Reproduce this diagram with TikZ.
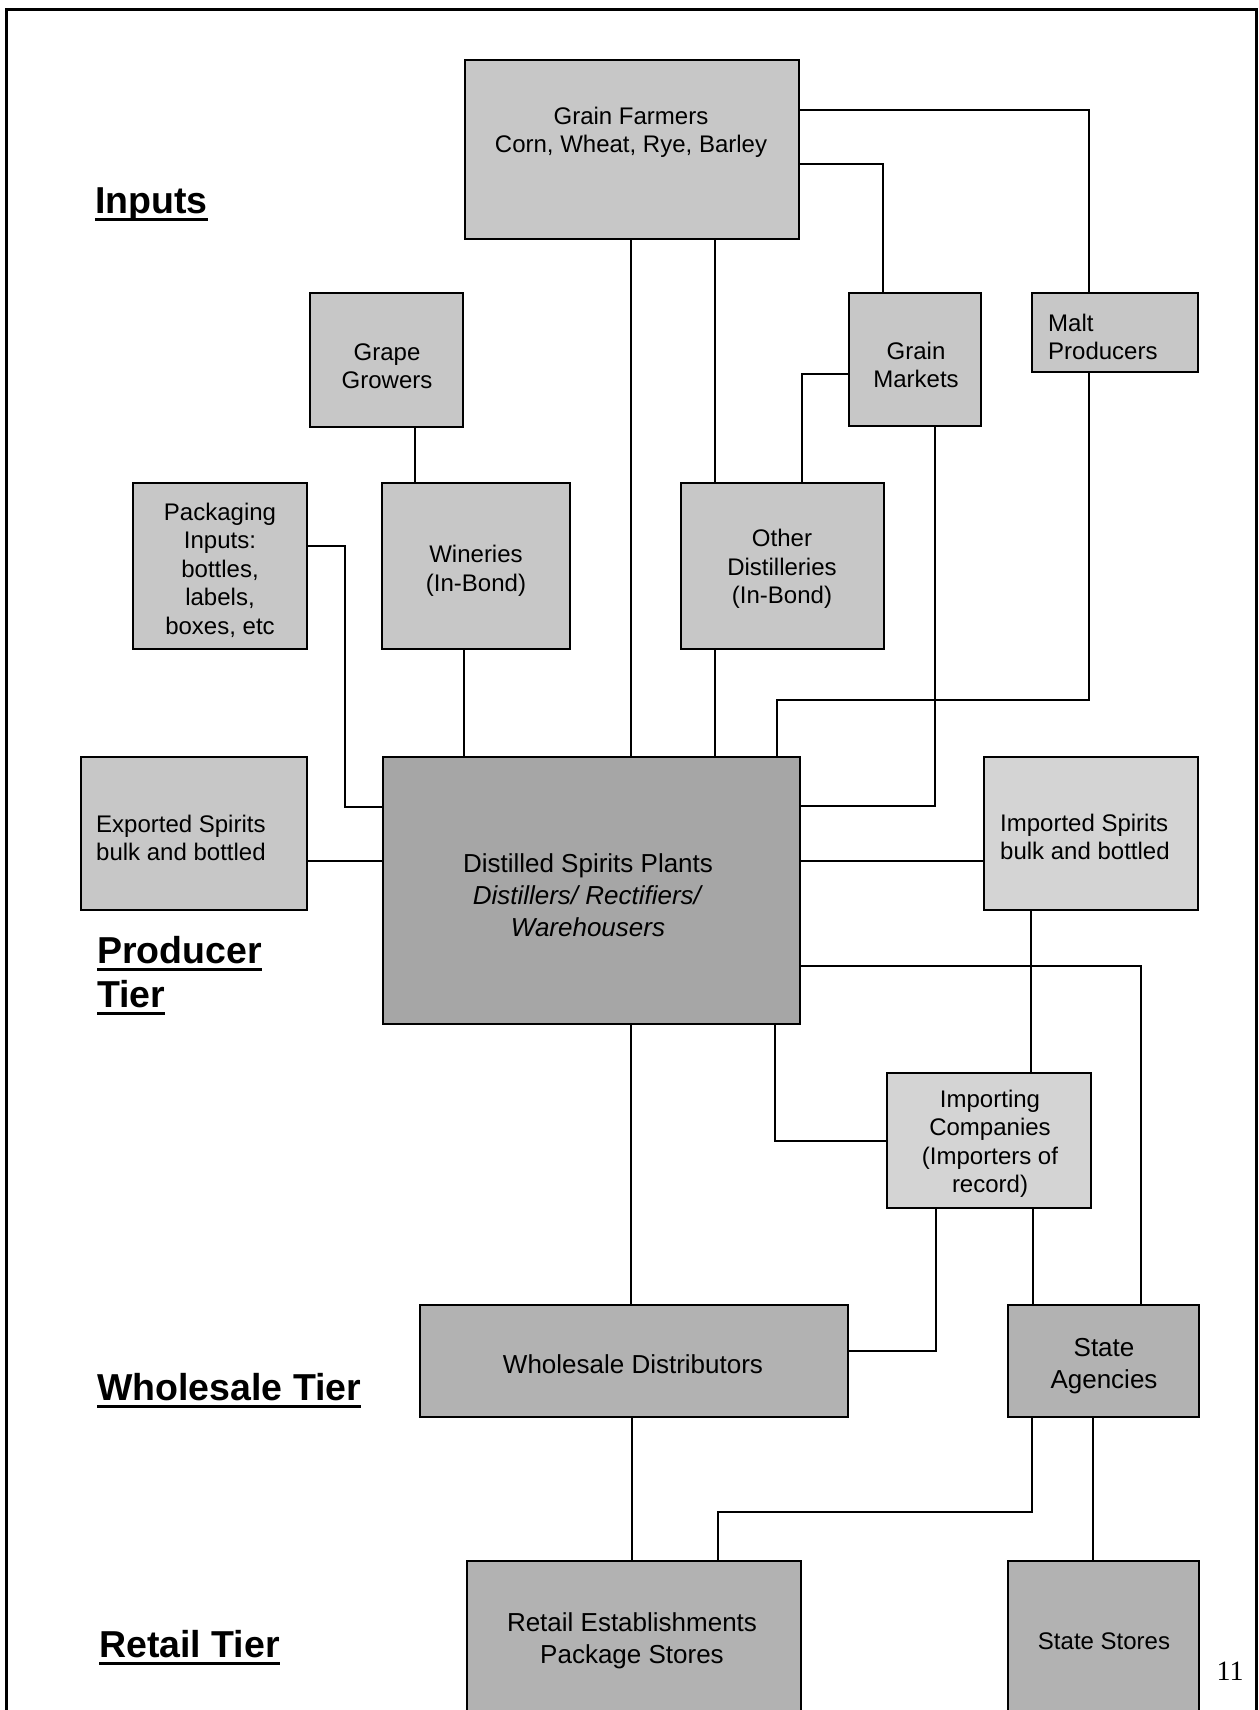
\documentclass[tikz,border=0pt]{standalone}
\usepackage{fontspec}
\setmainfont{Liberation Sans}
\newfontfamily\serifnum{Liberation Serif}
\usetikzlibrary{calc}
\definecolor{cin}{gray}{0.78}
\definecolor{clight}{gray}{0.83}
\definecolor{cdsp}{gray}{0.65}
\definecolor{cdist}{gray}{0.70}
\newcommand\secul[1]{\setbox0\hbox{#1}\rlap{\rule[-8pt]{\wd0}{3pt}}\box0}
\newcommand\mkbx[6]{\node[box, fill=#6, minimum width={#4pt-#2pt}, minimum height={#5pt-#3pt}] (#1) at ({(#2+#4)/2},{(#3+#5)/2}) {};}
\tikzset{
  box/.style={draw, line width=2.5pt, inner sep=0pt, rectangle},
  boxtext/.style={inner sep=0pt, align=center, font=\fontsize{24}{28.5}\selectfont},
  bigtext/.style={inner sep=0pt, align=center, font=\fontsize{26}{32}\selectfont},
  lefttext/.style={inner sep=0pt, align=left, anchor=west, font=\fontsize{24}{28}\selectfont},
  conn/.style={line width=2pt},
  tier/.style={inner sep=0pt, anchor=base west, align=left, font=\fontsize{37.5}{44}\selectfont\bfseries},
}
\begin{document}
\begin{tikzpicture}[x=1pt,y=-1pt]
\useasboundingbox (0,0) rectangle (1258,1710);
\clip (0,0) rectangle (1258,1710);
\fill[white] (0,0) rectangle (1258,1710);
\draw[line width=3pt] (6,9.5) rectangle (1256,1750);

% boxes
\mkbx{gf}{465}{60}{799}{239}{cin}
\mkbx{grape}{310}{293}{463}{427}{cin}
\mkbx{gm}{849}{293}{981}{426}{cin}
\mkbx{malt}{1032}{293}{1198}{372}{cin}
\mkbx{pack}{133}{483}{307}{649}{cin}
\mkbx{win}{382}{483}{570}{649}{cin}
\mkbx{od}{681}{483}{884}{649}{cin}
\mkbx{exp}{81}{757}{307}{910}{cin}
\mkbx{dsp}{383}{757}{800}{1024}{cdsp}
\mkbx{imp}{984}{757}{1198}{910}{clight}
\mkbx{ic}{887}{1073}{1091}{1208}{clight}
\mkbx{wd}{420}{1305}{848}{1417}{cdist}
\mkbx{sa}{1008}{1305}{1199}{1417}{cdist}
\mkbx{ret}{467}{1561}{801}{1725}{cdist}
\mkbx{ss}{1008}{1561}{1199}{1725}{cdist}

% box texts
\node[boxtext] (gf-t) at (631,132.5) {Grain Farmers\\Corn, Wheat, Rye, Barley};
\node[boxtext] (grape-t) at (387,366) {Grape\\Growers};
\node[boxtext] (gm-t) at (916,365) {Grain\\Markets};
\node[lefttext] (malt-t) at (1048,337) {Malt\\Producers};
\node[boxtext] (pack-t) at (220,570) {Packaging\\Inputs:\\bottles,\\labels,\\boxes, etc};
\node[boxtext] (win-t) at (476,571) {Wineries\\(In-Bond)};
\node[boxtext] (od-t) at (782,569) {Other\\Distilleries\\(In-Bond)};
\node[lefttext] (exp-t) at (96,838) {Exported Spirits\\bulk and bottled};
\node[bigtext] (dsp-t) at (588,895) {Distilled Spirits Plants\\\textit{Distillers/ Rectifiers/}\\\textit{Warehousers}};
\node[lefttext] (imp-t) at (1000,837) {Imported Spirits\\bulk and bottled};
\node[boxtext] (ic-t) at (990,1144) {Importing\\Companies\\(Importers of\\record)};
\node[bigtext] (wd-t) at (633,1364) {Wholesale Distributors};
\node[bigtext] (sa-t) at (1104,1366) {State\\Agencies};
\node[bigtext] (ret-t) at (632,1641) {Retail Establishments\\Package Stores};
\node[boxtext] (ss-t) at (1104,1641) {State Stores};

% tier labels
\node[tier] (inputs) at (95,213) {\secul{Inputs}};
\node[tier] (producer) at (97,1007) {\secul{Producer}\\\secul{Tier}};
\node[tier] (wholesale) at (97,1400) {\secul{Wholesale Tier}};
\node[tier] (retail) at (99,1657) {\secul{Retail Tier}};
\node[inner sep=0pt, font=\serifnum\fontsize{28}{30}\selectfont] (pg) at (1230,1671) {11};

% connectors
\draw[conn] (gf.north east) ++(0,51) -| ([xshift=-26pt]malt.north);
\draw[conn] (gf.north east) ++(0,105) -| ([xshift=-32pt]gm.north);
\draw[conn] ([xshift=-1pt]gf.south) -- ([xshift=-1pt]gf.south |- dsp.north);
\draw[conn] ([xshift=83pt]gf.south) -- ([xshift=83pt]gf.south |- od.north);
\draw[conn] (gm.north west) ++(0,82) -| ([xshift=19.5pt]od.north);
\draw[conn] ([xshift=20pt]gm.south) |- ([yshift=84.5pt]dsp.east);
\draw[conn] ([xshift=-26pt]malt.south) -- ++(0,327) -| ([xshift=185.5pt]dsp.north);
\draw[conn] ([xshift=28.5pt]grape.south) -- ([xshift=28.5pt]grape.south |- win.north);
\draw[conn] (pack.north east) ++(0,64) -- ++(37,0) |- ([yshift=83.5pt]dsp.west);
\draw[conn] ([xshift=-12pt]win.south) -- ([xshift=-12pt]win.south |- dsp.north);
\draw[conn] ([xshift=-67.5pt]od.south) -- ([xshift=-67.5pt]od.south |- dsp.north);
\draw[conn] ([yshift=-27.5pt]exp.east) -- ([yshift=-27.5pt]exp.east -| dsp.west);
\draw[conn] ([yshift=-27.5pt]imp.west) -- ([yshift=-27.5pt]imp.west -| dsp.east);
\draw[conn] ([xshift=-60pt]imp.south) -- ([xshift=-60pt]imp.south |- ic.north);
\draw[conn] ([yshift=-75.5pt]dsp.east) -| ([xshift=37.5pt]sa.north);
\draw[conn] ([xshift=183.5pt]dsp.south) |- (ic.west);
\draw[conn] ([xshift=39.5pt]dsp.south) -- ([xshift=39.5pt]dsp.south |- wd.north);
\draw[conn] ([xshift=-53pt]ic.south) |- ([yshift=10pt]wd.east);
\draw[conn] ([xshift=44pt]ic.south) -- ([xshift=44pt]ic.south |- sa.north);
\draw[conn] ([xshift=-2pt]wd.south) -- ([xshift=-2pt]wd.south |- ret.north);
\draw[conn] ([xshift=-71.5pt]sa.south) -- ++(0,94) -| ([xshift=84pt]ret.north);
\draw[conn] ([xshift=-10.5pt]sa.south) -- ([xshift=-10.5pt]sa.south |- ss.north);
\end{tikzpicture}
\end{document}
